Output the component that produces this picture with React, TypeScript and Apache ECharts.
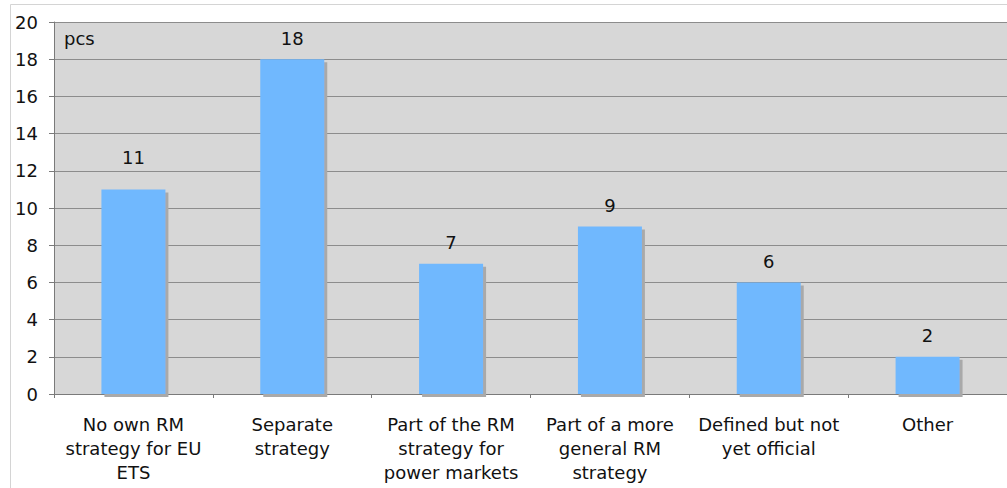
import React, { useEffect, useRef } from "react";
import * as echarts from "echarts";

const categories = [
  "No own RM\nstrategy for EU\nETS",
  "Separate\nstrategy",
  "Part of the RM\nstrategy for\npower markets",
  "Part of a more\ngeneral RM\nstrategy",
  "Defined but not\nyet official",
  "Other",
];
const values = [11, 18, 7, 9, 6, 2];
const yTicks = { min: 0, max: 20, interval: 2 };
const unitLabel = "pcs";

export default function App() {
  const ref = useRef<HTMLDivElement>(null);
  useEffect(() => {
    if (!ref.current) return;
    const chart = echarts.init(ref.current, undefined, { renderer: "svg" });
    const font = "'DejaVu Sans', Verdana, sans-serif";
    chart.setOption({
      animation: false,
      backgroundColor: "#ffffff",
      textStyle: { fontFamily: font },
      grid: {
        left: 54,
        right: -3,
        top: 22,
        bottom: 94,
        show: true,
        backgroundColor: "#d7d7d7",
        borderWidth: 0,
      },
      graphic: [
        {
          type: "rect",
          shape: { x: 10.5, y: 4.5, width: 1010, height: 500 },
          style: { fill: "none", stroke: "#d4d4d4", lineWidth: 1 },
          z: 0,
        },
        {
          type: "text",
          x: 64,
          y: 38,
          style: {
            text: unitLabel,
            font: `18px ${font}`,
            fill: "#111",
            verticalAlign: "middle",
          },
          z: 10,
        },
      ],
      xAxis: {
        type: "category",
        data: categories,
        axisLine: { show: true, lineStyle: { color: "#7a7a7a", width: 1 } },
        axisTick: { show: true, length: 4, lineStyle: { color: "#7a7a7a" } },
        axisLabel: {
          color: "#111",
          fontSize: 18,
          lineHeight: 24,
          margin: 18,
          interval: 0,
          fontFamily: font,
        },
      },
      yAxis: {
        type: "value",
        min: yTicks.min,
        max: yTicks.max,
        interval: yTicks.interval,
        axisLine: { show: true, lineStyle: { color: "#7a7a7a" } },
        axisTick: { show: true, length: 5, lineStyle: { color: "#7a7a7a" } },
        axisLabel: { color: "#111", fontSize: 18, margin: 16, fontFamily: font },
        splitLine: { show: true, lineStyle: { color: "#8c8c8c", width: 1 } },
      },
      series: [
        {
          type: "bar",
          data: values.map((v, i) =>
            i === 0 ? { value: v, label: { offset: [0, -11] } } : { value: v }
          ),
          barWidth: 64,
          itemStyle: {
            color: "#70b8fe",
            shadowColor: "#a9a9a9",
            shadowOffsetX: 3,
            shadowOffsetY: 3,
            shadowBlur: 0,
          },
          label: {
            show: true,
            position: "top",
            distance: 12,
            color: "#111",
            fontSize: 18,
            fontFamily: font,
          },
        },
      ],
    });
    return () => chart.dispose();
  }, []);
  return (
    <div
      ref={ref}
      style={{ position: "fixed", left: 0, top: 0, width: 1007, height: 488 }}
    />
  );
}
